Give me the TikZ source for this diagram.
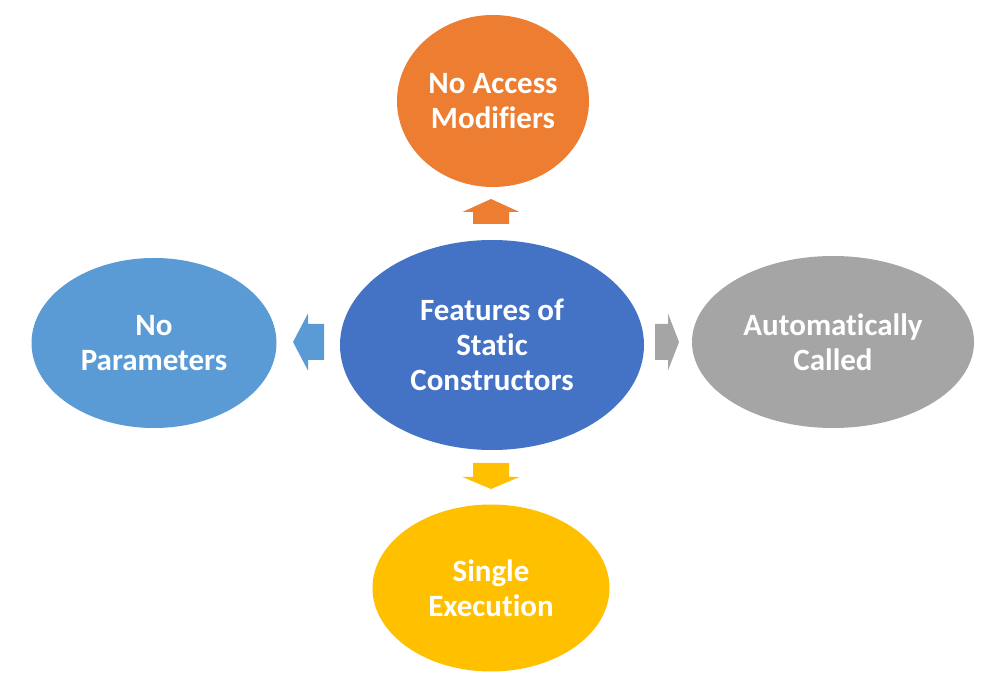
\documentclass[tikz,border=0pt]{standalone}
\usepackage{fontspec}
\setmainfont{Carlito}[Ligatures=NoCommon]
\usetikzlibrary{shapes.geometric}
\definecolor{cblue}{HTML}{4472C4}
\definecolor{corange}{HTML}{ED7D31}
\definecolor{clblue}{HTML}{5B9BD5}
\definecolor{cgray}{HTML}{A5A5A5}
\definecolor{cyellow}{HTML}{FFC000}
\tikzset{
  bubble/.style={ellipse, inner sep=0pt, text=white, align=center,
    font=\fontsize{31}{35}\selectfont\bfseries},
}
% block arrow: tip at #1, rotation #2, total length #3, head length #4, colour #5
\newcommand{\blockarr}[5]{%
  \begin{scope}[shift={(#1)}, rotate=#2]
    \fill[#5] (0,0) -- (28.5,#4) -- (18,#4) -- (18,#3) -- (-18,#3) -- (-18,#4) -- (-28.5,#4) -- cycle;
  \end{scope}}
\begin{document}
\begin{tikzpicture}[x=1pt,y=-1pt]
\useasboundingbox (0,0) rectangle (989,684);
\fill[white] (0,0) rectangle (989,684);
\node[bubble, fill=cblue, minimum width=304pt, minimum height=210pt] (center) at (492,345) {Features of\\Static\\Constructors};
\node[bubble, fill=corange, minimum width=192pt, minimum height=172pt] (top) at (493,101) {No Access\\Modifiers};
\node[bubble, fill=clblue, minimum width=245pt, minimum height=170pt] (left) at (154,343) {No\\Parameters};
\node[bubble, fill=cgray, minimum width=282pt, minimum height=172pt] (right) at (833,342) {Automatically\\Called};
\node[bubble, fill=cyellow, minimum width=237pt, minimum height=167pt] (bottom) at (491,588) {Single\\Execution};
\coordinate (tipT) at (491,199);
\coordinate (tipB) at (491,489);
\coordinate (tipL) at (293,342);
\coordinate (tipR) at (679,342);
\blockarr{tipT}{0}{25}{13}{corange}
\blockarr{tipB}{180}{26}{12}{cyellow}
\blockarr{tipL}{90}{31}{15}{clblue}
\blockarr{tipR}{-90}{24}{11}{cgray}
\end{tikzpicture}
\end{document}
